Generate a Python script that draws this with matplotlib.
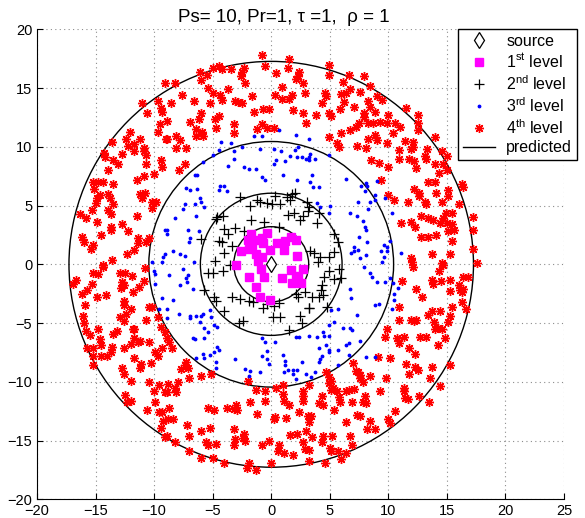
import numpy as np
import matplotlib
matplotlib.use("Agg")
import matplotlib.pyplot as plt
from matplotlib.patches import Circle
from matplotlib.lines import Line2D

plt.rcParams['font.family'] = ['Liberation Sans', 'DejaVu Sans']
plt.rcParams['mathtext.fontset'] = 'custom'
plt.rcParams['mathtext.rm'] = 'Liberation Sans'

# data
source = [(0.0, 0.0)]

level1 = [(-1.7, 2.6), (-2.0, 2.1), (-1.2, 2.1), (-0.8, 2.2), (-0.4, 2.7), (-0.7, 1.8), (0.5, 1.8),
          (1.2, 2.0), (1.7, 2.3), (2.1, 2.1), (-1.6, 1.6), (-2.6, 1.1), (-1.9, 1.3), (-1.3, 0.9),
          (-0.1, 1.2), (1.1, 1.2), (2.2, 0.7), (-1.1, 0.3), (-0.8, 0.6), (-3.0, -0.1), (-0.9, -0.4),
          (1.7, -0.5), (2.7, -0.4), (2.3, -1.0), (1.8, -1.6), (2.5, -1.6), (0.9, -1.2), (2.1, -1.2),
          (-1.9, -1.1), (-1.3, -1.9), (-0.6, -1.05), (-1.0, -2.8), (-0.1, -3.0)]

level2 = [(-2.65, 5.77), (-1.85, 4.97), (-1.23, 5.43), (-1.0, 5.26), (-0.37, 5.2), (0.06, 5.14),
          (0.77, 5.14), (1.34, 5.77), (1.77, 5.99), (2.05, 6.11), (1.57, 5.48), (3.05, 5.34),
          (3.19, 4.91), (4.05, 4.35), (1.4, 4.2), (1.97, 4.35), (2.48, 3.78), (2.71, 4.12), (3.9, 3.55),
          (-1.74, 3.78), (-0.6, 3.64), (-4.64, 4.06), (-4.7, 3.84), (-4.07, 2.98), (-3.08, 3.07),
          (-2.31, 2.87), (-4.42, 2.02), (-4.22, 1.93), (-3.36, 1.56), (-4.07, 0.99), (-4.79, 0.31),
          (-6.01, 2.13), (5.33, 2.59), (5.67, 1.93), (5.38, 1.08), (3.33, 1.17), (3.62, 0.94),
          (4.19, 0.65), (4.9, 0.65), (3.96, 0.23), (-5.36, -0.77), (-4.93, -0.77), (-4.13, -0.54),
          (-3.5, -0.06), (4.9, -0.54), (5.75, -0.43), (4.47, -1.05), (5.33, -1.28), (5.95, -1.19),
          (4.33, -1.76), (4.22, -2.19), (4.39, -2.61), (4.05, -2.76), (3.48, -2.81), (2.91, -2.33),
          (2.25, -2.76), (2.14, -2.53), (-4.87, -2.76), (-4.7, -3.1), (-3.36, -2.81), (-2.65, -2.98),
          (-1.94, -3.1), (-1.57, -3.18), (-0.37, -3.38), (0.2, -3.55), (0.63, -3.27), (-0.71, -3.75),
          (0.14, -4.46), (0.71, -4.46), (2.48, -4.4), (3.19, -3.75), (2.62, -5.03), (-4.07, -3.95),
          (-2.71, -5.03), (1.48, -5.6), (-5.73, -2.19), (-4.1, 4.1), (-3.7, 2.6), (3.1, 4.5),
          (0.3, 5.8), (-2.4, -4.8), (4.8, -3.6), (3.2, -3.7), (0.7, 3.2)]

level3 = [(-9.1, 2.9), (-10.2, 0.2), (-9.3, 0.2), (-9.2, 0.6),
          (-1.5, 10.9), (-0.8, 10.9), (-4.3, 10.4), (-3.4, 10.3), (-2.5, 10.0), (-1.0, 9.8), (-4.5, 9.7),
          (-3.2, 9.6), (-5.0, 9.3), (-3.2, 9.0), (-5.8, 8.7), (-3.7, 8.4), (-2.3, 8.3), (-1.9, 8.1),
          (-1.3, 8.1), (-6.5, 7.6), (-6.3, 7.6), (-0.8, 7.4), (-0.5, 7.2), (-4.4, 6.7), (-4.0, 6.7),
          (-7.3, 6.5), (-6.9, 6.3), (-6.3, 6.4), (-4.5, 6.3), (-3.8, 6.2), (-6.1, 5.6), (-7.4, 5.1),
          (-6.5, 5.1), (-6.0, 5.3), (-5.7, 4.9), (-7.5, 4.7), (-6.4, 4.1), (-8.2, 3.9), (-7.1, 2.9),
          (-6.2, 2.8), (-8.9, 2.9), (-8.9, 2.6), (-6.9, 2.2), (-7.0, 1.9), (-9.1, 0.9), (-8.4, 1.1),
          (-7.8, 0.9), (-7.4, 0.7), (-6.6, 0.2),
          (0.7, 11.4), (2.1, 11.0), (3.2, 10.7), (0.2, 9.8), (0.8, 9.6), (2.0, 9.7), (2.3, 10.0),
          (1.6, 9.2), (2.2, 9.1), (2.6, 9.1), (0.4, 8.9), (0.2, 8.5), (1.2, 8.8), (3.0, 9.0), (3.2, 8.9),
          (3.2, 9.1), (3.7, 9.0), (3.3, 9.4), (4.9, 9.3), (1.0, 7.6), (2.2, 7.2), (3.5, 7.6), (3.3, 7.0),
          (3.6, 6.6), (4.1, 6.6), (6.4, 7.3), (8.1, 6.9), (8.2, 6.7), (7.7, 6.7), (8.0, 6.2), (3.9, 5.2),
          (5.0, 5.0), (4.2, 4.9), (4.9, 4.4), (7.4, 5.3), (8.4, 5.3), (8.3, 4.7), (6.7, 4.4), (7.3, 4.1),
          (7.8, 3.7), (8.0, 3.2), (8.1, 2.9), (7.5, 2.3), (8.2, 1.9), (7.1, 1.5), (6.8, 1.0), (7.1, 1.1),
          (7.4, 1.2), (8.1, 0.8), (7.6, 0.5),
          (9.0, 7.1), (9.7, 5.6), (8.9, 5.9), (8.9, 5.5), (10.3, 4.4), (10.1, 2.0), (9.6, 1.6), (9.9, 1.5),
          (9.4, 1.1), (9.9, 1.1), (11.1, 1.0), (9.6, 0.6), (9.5, 0.2),
          (-10.0, -0.6), (-9.9, -0.8), (-9.9, -1.7), (-9.3, -2.9), (-9.6, -3.8),
          (-7.5, -0.4), (-7.1, -0.9), (-7.3, -1.2), (-7.2, -1.5), (-7.8, -1.8), (-6.7, -2.1), (-8.4, -3.0),
          (-8.9, -3.8), (-8.9, -4.6), (-7.9, -4.2), (-6.9, -4.6), (-6.9, -4.4), (-6.4, -4.4), (-6.0, -4.4),
          (-5.8, -4.2), (-6.1, -4.9), (-5.1, -4.5), (-5.2, -3.9), (-4.9, -5.2), (-4.6, -5.3), (-5.7, -5.4),
          (-5.4, -5.8), (-5.7, -6.3), (-6.7, -6.3), (-6.5, -6.4), (-4.6, -7.0), (-4.5, -7.3), (-4.9, -7.5),
          (-5.2, -7.7), (-5.8, -7.6), (-5.7, -8.0), (-6.4, -8.0), (-4.7, -8.3), (-4.7, -8.8), (-3.1, -8.1),
          (-2.2, -8.9), (-1.8, -9.1), (-1.9, -9.5), (-1.0, -9.2), (-0.8, -6.3), (-0.5, -6.6), (-0.4, -7.4),
          (-0.8, -7.8), (-0.4, -8.1), (-0.2, -8.5), (-8.7, -0.9),
          (7.9, -0.2), (8.4, -0.7), (8.6, -1.1), (6.7, -2.1), (6.8, -2.9), (7.3, -4.3), (5.7, -3.8),
          (5.1, -3.9), (5.4, -4.9), (6.1, -5.4), (6.7, -5.4), (6.9, -5.6), (4.9, -5.2), (4.4, -5.8),
          (4.5, -6.1), (4.9, -6.1), (3.2, -6.1), (2.4, -6.2), (2.1, -6.2), (3.9, -6.2), (0.3, -6.6),
          (7.6, -6.5), (6.6, -6.7), (6.4, -6.9), (4.1, -7.1), (4.7, -6.9), (4.9, -7.3), (4.9, -7.5),
          (4.3, -7.8), (5.7, -7.3), (6.6, -7.7), (1.0, -7.7), (1.2, -8.2), (1.2, -8.6), (1.4, -9.0),
          (1.9, -9.0), (2.2, -9.0), (2.6, -8.3), (4.1, -8.3), (4.2, -8.1), (3.0, -9.3), (3.4, -9.6),
          (1.1, -9.2), (1.9, -9.3), (2.1, -9.8), (3.7, -9.2), (5.7, -8.6), (8.1, -7.9), (8.9, -7.9),
          (9.0, -1.5), (9.7, -1.5), (10.1, -1.2), (10.4, -1.6), (10.8, -2.0), (10.5, -2.5), (10.5, -3.0),
          (9.2, -3.4), (8.9, -3.5), (10.3, -3.8)]

level4 = [(-9.1, 15.4), (-11.0, 13.7), (-9.7, 13.9), (-10.6, 12.9), (-9.4, 13.3), (-9.3, 13.0), (-9.5, 11.9),
          (-9.7, 11.3), (-9.0, 10.7), (-12.1, 11.3), (-12.4, 10.7), (-11.2, 10.7), (-13.6, 10.4),
          (-12.2, 10.1), (-11.7, 10.2), (-10.9, 9.9), (-10.7, 9.3), (-10.9, 9.6), (-11.7, 9.6), (-12.7, 9.4),
          (-14.3, 9.5), (-14.2, 9.1), (-13.5, 8.9), (-13.1, 8.5), (-10.7, 8.5), (-9.4, 8.9), (-9.3, 8.3),
          (-13.9, 8.0), (-10.0, 7.7), (-10.9, 7.5), (-11.5, 7.2), (-15.2, 7.0), (-14.8, 7.0), (-14.4, 7.0),
          (-13.5, 6.8), (-15.1, 6.4), (-14.6, 5.9), (-14.9, 5.6), (-15.0, 5.2), (-13.9, 6.0), (-13.8, 5.6),
          (-13.5, 5.1), (-11.2, 6.0), (-10.8, 6.1), (-11.0, 5.6), (-10.2, 5.3), (-9.8, 5.3), (-10.2, 4.8),
          (-13.9, 4.6), (-13.7, 4.3), (-15.3, 4.6), (-16.3, 4.3), (-15.8, 3.9), (-14.9, 3.6), (-11.5, 4.1),
          (-12.7, 3.4), (-13.7, 3.2), (-13.7, 2.9), (-12.2, 2.8), (-14.5, 2.5), (-16.2, 2.3), (-16.0, 1.9),
          (-15.2, 1.6), (-15.4, 1.3), (-11.4, 2.2), (-11.4, 1.8), (-10.7, 1.9), (-10.4, 2.2), (-11.7, 1.2),
          (-12.3, 0.9), (-13.6, 0.4), (-14.4, -0.1),
          (-8.2, 15.4), (-7.6, 14.4), (-6.1, 16.4), (-5.5, 16.1), (-6.0, 15.7), (-5.0, 16.7), (-4.5, 16.9),
          (-4.2, 16.6), (-3.4, 16.6), (-2.5, 16.4), (-2.6, 16.0), (-2.3, 16.7), (-2.2, 15.4), (-0.8, 17.8),
          (-0.5, 16.9), (-5.4, 15.0), (-5.0, 14.6), (-4.4, 14.4), (-4.2, 14.0), (-3.7, 14.9), (-3.1, 13.9),
          (-2.5, 13.7), (-2.8, 13.8), (-1.6, 14.3), (-6.6, 13.9), (-5.2, 13.7), (-8.6, 13.7), (-8.9, 12.2),
          (-6.0, 12.9), (-6.2, 12.4), (-6.9, 12.1), (-4.5, 12.6), (-4.8, 12.4), (-4.7, 11.6), (-3.2, 11.9),
          (-1.5, 13.0), (-0.7, 13.2), (-0.2, 13.2), (-0.8, 11.9), (-1.2, 11.5), (-0.4, 11.6), (-6.4, 11.5),
          (-5.9, 11.3), (-5.8, 10.9), (-6.4, 10.9), (-3.2, 11.2), (-8.9, 10.7), (-8.1, 10.9), (-7.8, 10.6),
          (-7.3, 9.9), (-8.1, 9.9), (-7.4, 8.5), (-7.9, 8.0),
          (1.5, 17.5), (1.4, 16.7), (0.4, 16.3), (2.4, 16.4), (2.3, 16.0), (2.1, 15.8), (2.7, 15.4),
          (0.9, 15.1), (4.9, 17.0), (4.9, 16.1), (6.6, 16.1), (6.1, 15.5), (7.9, 16.0), (8.4, 15.2),
          (0.3, 14.4), (0.9, 14.1), (1.5, 14.1), (1.8, 14.4), (2.9, 14.6), (4.6, 14.6), (4.7, 14.3),
          (4.3, 13.7), (6.0, 14.5), (6.4, 14.6), (6.7, 14.9), (7.6, 14.7), (6.2, 13.8), (5.9, 13.2),
          (7.1, 13.4), (8.3, 13.9), (8.4, 13.4), (7.9, 12.9), (7.9, 12.5), (8.3, 12.0), (8.7, 12.0),
          (7.5, 12.0), (7.2, 11.7), (6.7, 11.4), (6.0, 11.2), (1.9, 13.1), (2.7, 12.9), (3.8, 12.7),
          (4.9, 12.9), (5.1, 12.6), (3.0, 12.0), (0.2, 11.6), (4.9, 10.8), (5.6, 10.3), (5.8, 10.0),
          (7.3, 10.1), (8.1, 9.9), (8.3, 10.7), (8.5, 8.9),
          (9.5, 14.0), (9.0, 14.3), (8.9, 13.0), (10.0, 12.7), (9.3, 12.1), (9.9, 12.0), (10.6, 12.0),
          (11.0, 11.7), (10.4, 11.2), (11.5, 13.3), (12.5, 12.7), (12.5, 12.0), (12.5, 11.4), (8.9, 11.0),
          (9.0, 10.6), (9.9, 10.3), (11.4, 10.5), (12.1, 10.4), (12.1, 10.0), (11.9, 9.8), (14.0, 10.8),
          (13.3, 9.8), (10.9, 9.7), (10.9, 9.0), (11.8, 9.0), (12.2, 8.8), (12.4, 8.2), (13.1, 9.2),
          (13.2, 9.0), (14.6, 9.6), (15.0, 9.2), (14.0, 8.5), (14.7, 8.5), (14.3, 7.8), (15.0, 8.0),
          (9.2, 8.6), (10.0, 8.3), (9.4, 7.2), (13.4, 7.0), (14.0, 7.0), (12.2, 6.4), (12.6, 6.1),
          (12.6, 5.8), (14.1, 6.1), (15.1, 6.3), (15.1, 5.8), (16.3, 6.8), (16.4, 6.6), (10.0, 5.9),
          (10.5, 5.5), (11.7, 5.3), (13.1, 5.3), (13.2, 5.1), (14.6, 5.3), (16.0, 5.1), (14.9, 4.4),
          (15.4, 4.4), (14.7, 3.9), (14.4, 3.5), (15.0, 3.5), (15.4, 3.4), (15.6, 2.9), (15.1, 2.8),
          (17.2, 4.0), (17.2, 2.9), (12.8, 4.1), (13.4, 3.9), (13.8, 3.8), (11.9, 3.6), (12.3, 3.2),
          (11.1, 3.5), (12.8, 2.3), (13.4, 2.3), (14.1, 2.5), (15.4, 2.0), (17.2, 1.3), (15.3, 0.9),
          (13.7, 0.9), (14.6, 0.1), (11.9, 0.5), (12.0, 0.2), (17.6, 0.1),
          (-16.9, -1.7), (-16.7, -1.3), (-15.2, -0.7), (-14.8, -0.8), (-14.4, -0.2), (-15.3, -1.7),
          (-16.2, -2.5), (-15.7, -2.2), (-14.9, -2.8), (-14.1, -2.6), (-12.9, -0.7), (-12.5, -0.7),
          (-12.7, -1.5), (-12.6, -1.8), (-12.8, -2.0), (-11.9, -1.0), (-11.3, -1.9), (-10.9, -1.4),
          (-10.8, -0.3), (-11.8, -2.4), (-12.6, -3.1), (-12.6, -3.5), (-12.0, -3.8), (-12.4, -4.2),
          (-12.9, -4.5), (-12.6, -4.8), (-15.9, -3.5), (-16.1, -4.4), (-16.0, -5.0), (-15.8, -5.7),
          (-15.5, -6.0), (-14.8, -5.5), (-14.6, -6.4), (-14.5, -6.9), (-13.5, -5.9), (-13.2, -5.7),
          (-13.6, -7.0), (-13.7, -7.5), (-14.0, -7.8), (-14.5, -7.8), (-15.2, -7.8), (-15.7, -7.1),
          (-15.2, -7.1), (-15.2, -8.6), (-11.8, -5.5), (-11.7, -6.3), (-12.0, -6.8), (-11.4, -6.6),
          (-11.2, -6.5), (-12.6, -7.1), (-10.4, -6.6), (-10.7, -4.7), (-11.7, -5.5), (-10.4, -3.6),
          (-10.2, -3.6), (-9.7, -4.5), (-9.4, -5.3), (-9.1, -5.8), (-9.3, -7.1), (-9.9, -7.5), (-9.7, -7.8),
          (-11.7, -8.0), (-11.1, -8.5), (-11.2, -8.8), (-10.3, -8.4), (-12.7, -8.8), (-12.6, -9.3),
          (-12.0, -9.9), (-10.4, -10.0), (-9.6, -10.3), (-10.0, -10.8), (-9.1, -10.9), (-12.5, -11.1),
          (-12.0, -11.6), (-12.3, -11.7), (-9.9, -11.7), (-10.6, -12.4), (-9.6, -12.6), (-9.3, -12.6),
          (-9.4, -13.9), (-9.2, -13.3), (-9.1, -14.7),
          (-8.9, -6.3), (-8.7, -6.6), (-8.5, -7.1), (-7.3, -8.3), (-7.4, -8.6), (-7.1, -8.8), (-7.7, -8.9),
          (-7.0, -9.7), (-6.0, -9.5), (-5.1, -9.3), (-8.0, -10.0), (-8.2, -10.5), (-8.1, -10.9),
          (-8.8, -10.2), (-8.9, -10.9), (-8.7, -12.2), (-8.8, -13.2), (-8.4, -13.2), (-7.2, -13.7),
          (-7.0, -14.6), (-6.0, -14.2), (-5.2, -13.9), (-5.4, -12.2), (-4.9, -12.4), (-3.8, -12.2),
          (-3.0, -12.0), (-2.9, -12.4), (-3.2, -12.3), (-3.2, -14.0), (-3.2, -15.4), (-5.6, -15.1),
          (-5.4, -15.4), (-4.7, -15.3), (-3.1, -14.9), (-2.4, -14.8), (-2.3, -14.4), (-2.2, -15.0),
          (-0.8, -15.4), (-7.0, -15.9), (-8.9, -14.6), (-8.2, -15.1), (-6.0, -16.5), (-5.0, -16.5),
          (-4.0, -16.9), (-1.9, -16.9), (-2.1, -17.3), (-1.3, -17.5), (-2.0, -9.9), (-1.3, -10.7),
          (-1.8, -11.7), (-0.5, -10.8), (-0.5, -11.6), (-1.2, -12.7), (-0.2, -15.0),
          (4.7, -9.2), (4.9, -9.6), (5.1, -9.9), (4.9, -10.1), (5.3, -10.5), (5.1, -10.7), (5.6, -10.8),
          (5.8, -11.3), (5.9, -11.7), (6.4, -10.8), (6.6, -10.7), (7.1, -10.6), (7.0, -8.4), (7.2, -9.1),
          (7.4, -9.2), (7.6, -9.7), (7.6, -9.4), (8.4, -9.5), (7.8, -10.0), (8.0, -11.2), (8.1, -11.8),
          (7.8, -11.7), (6.9, -11.7), (5.4, -12.4), (7.3, -12.8), (7.6, -12.9), (8.4, -13.3), (8.2, -14.0),
          (6.4, -13.4), (0.4, -10.5), (1.0, -10.3), (1.0, -11.0), (1.1, -11.6), (1.5, -12.0), (2.7, -10.8),
          (2.7, -11.2), (2.7, -11.6), (3.2, -10.3), (4.3, -11.2), (4.1, -11.8), (4.4, -12.0), (0.3, -13.0),
          (0.2, -13.2), (1.3, -13.1), (2.4, -12.6), (3.1, -12.9), (3.4, -12.9), (3.2, -13.4), (1.6, -14.5),
          (2.2, -14.4), (3.0, -14.2), (3.5, -14.7), (4.4, -14.6), (5.2, -14.6), (4.3, -15.1), (5.0, -15.6),
          (5.1, -15.9), (5.7, -15.9), (6.7, -14.6), (6.9, -15.4), (6.4, -16.1), (6.0, -16.6), (0.7, -15.4),
          (0.6, -15.9), (1.1, -16.1), (1.9, -16.2), (2.9, -15.7), (3.2, -15.8), (3.2, -16.7), (4.6, -16.9),
          (0.0, -16.9), (2.7, -15.1),
          (12.1, -0.2), (14.3, -0.6), (14.7, -0.1), (11.2, -1.4), (12.4, -2.1), (12.9, -2.8), (10.9, -3.6),
          (13.7, -1.3), (13.8, -1.7), (14.5, -1.4), (15.3, -1.3), (15.3, -2.3), (16.0, -1.8), (16.1, -2.2),
          (16.4, -2.1), (16.3, -2.4), (16.4, -1.1), (16.8, -1.1), (16.3, -3.2), (16.6, -3.8), (15.4, -3.6),
          (15.3, -4.4), (15.1, -4.9), (14.4, -4.0), (13.7, -4.0), (13.4, -4.3), (13.9, -4.9), (14.2, -5.4),
          (14.6, -5.5), (14.0, -5.5), (14.8, -6.3), (14.2, -6.9), (11.9, -4.7), (12.2, -4.8), (12.4, -4.7),
          (10.9, -4.7), (9.9, -5.5), (9.7, -6.2), (10.7, -6.3), (10.9, -6.7), (11.3, -6.2), (12.7, -6.2),
          (13.2, -6.2), (11.8, -7.1), (12.3, -7.6), (9.1, -7.9), (10.1, -8.0), (11.5, -8.5), (12.3, -8.7),
          (12.5, -9.0), (11.8, -9.3), (13.7, -8.7), (15.3, -8.6), (9.8, -9.7), (11.3, -10.5), (11.3, -10.8),
          (11.4, -11.4), (11.7, -11.5), (12.6, -11.2), (13.6, -9.7), (14.4, -10.4), (13.5, -11.7),
          (9.3, -10.8), (10.6, -12.5), (10.0, -13.2), (10.1, -13.5), (8.9, -14.0)]

radii = [3.2, 6.05, 10.45, 17.27]
xticks = [-20, -15, -10, -5, 0, 5, 10, 15, 20, 25]
yticks = [-20, -15, -10, -5, 0, 5, 10, 15, 20]

fig = plt.figure(figsize=(5.85, 5.18), dpi=100)
ax = fig.add_axes([37 / 585, 1 - 499.3 / 518, 527 / 585, 470 / 518])

s = np.array(source)
l1 = np.array(level1)
l2 = np.array(level2)
l3 = np.array(level3)
l4 = np.array(level4)

red_kw = dict(ls='none', marker=(8, 2, 0), ms=6.5, mew=1.0, color='red')
blue_kw = dict(ls='none', marker='.', ms=3.5, color='blue')
plus_kw = dict(ls='none', marker='+', ms=6.5, mew=0.9, color='black')
sq_kw = dict(ls='none', marker='s', ms=5.5, mfc='magenta', mec='magenta')
src_kw = dict(ls='none', marker='d', ms=8, mfc='white', mec='black', mew=0.9)

ax.plot(l4[:, 0], l4[:, 1], **red_kw)
ax.plot(l3[:, 0], l3[:, 1], **blue_kw)
ax.plot(l2[:, 0], l2[:, 1], **plus_kw)
ax.plot(l1[:, 0], l1[:, 1], **sq_kw)
ax.plot(s[:, 0], s[:, 1], **src_kw)
for r in radii:
    ax.add_patch(Circle((0, 0), r, fill=False, ec='black', lw=1.0))

ax.set_xlim(-20, 25)
ax.set_ylim(-20, 20)
ax.set_xticks(xticks)
ax.set_yticks(yticks)
ax.tick_params(direction='in', length=4, labelsize=10.5, top=False, right=False)
ax.spines['top'].set_visible(False)
ax.spines['right'].set_visible(False)
ax.grid(True, linestyle=(0, (1, 3)), color='0.55', linewidth=0.8)
ax.set_axisbelow(True)
ax.set_title('Ps= 10, Pr=1, \u03c4 =1,  \u03c1 = 1', fontsize=13.5, pad=5, x=(284 - 37) / 527)

handles = [Line2D([], [], **src_kw), Line2D([], [], **sq_kw), Line2D([], [], **plus_kw),
           Line2D([], [], **blue_kw), Line2D([], [], **red_kw), Line2D([], [], color='black', lw=1.0)]
labels = ['source', '1$^{\\rm st}$ level', '2$^{\\rm nd}$ level', '3$^{\\rm rd}$ level',
          '4$^{\\rm th}$ level', 'predicted']
leg = ax.legend(handles, labels, loc='upper right', bbox_to_anchor=(577 / 585, 1 - 29 / 518),
                bbox_transform=fig.transFigure, fontsize=11.5, frameon=True, fancybox=False,
                framealpha=1, edgecolor='black', borderpad=0.3, labelspacing=0.22,
                handlelength=2.0, handletextpad=0.7, borderaxespad=0)
leg.get_frame().set_linewidth(1.0)

fig.savefig('out.png', dpi=100)
